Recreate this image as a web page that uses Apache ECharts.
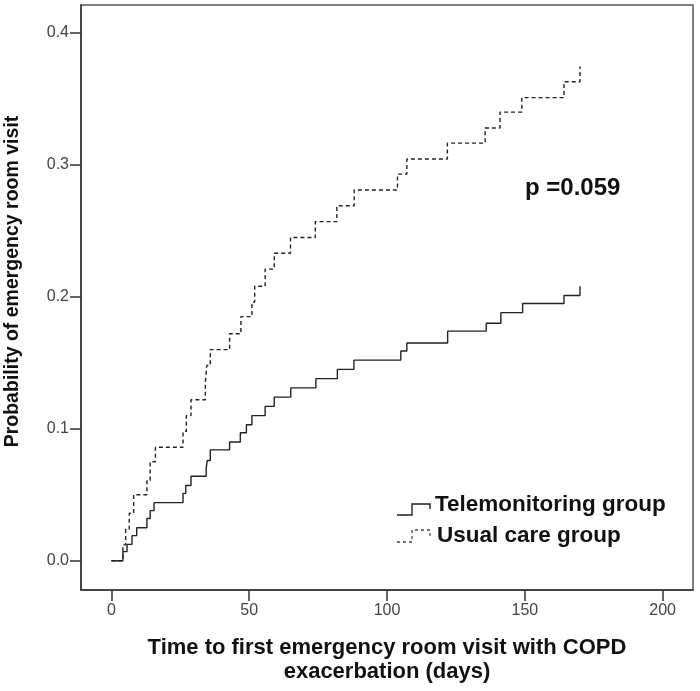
<!DOCTYPE html>
<html>
<head>
<meta charset="utf-8">
<script src="https://cdn.jsdelivr.net/npm/echarts@6/dist/echarts.min.js"></script>
<style>
    html, body { margin: 0; padding: 0; background: #fff; }
    #chart { width: 700px; height: 691px; }
</style>
</head>
<body>
<div id="chart"></div>
<script>
// event times (days) and cumulative probability after each event
var teleTimes = [0, 4.2, 5.7, 7.5, 9.2, 12.9, 14.1, 15.5, 26, 27, 28.9, 34.4, 34.8, 35.9, 42.9, 46.8, 49, 51, 55.8, 59.1, 65.1, 74.2, 82, 88, 105, 107.2, 122, 136, 141.3, 149.2, 164.2, 170];
var teleProb = [0, 0.0069, 0.0124, 0.019, 0.025, 0.032, 0.038, 0.044, 0.051, 0.057, 0.064, 0.070, 0.076, 0.084, 0.090, 0.097, 0.103, 0.110, 0.117, 0.124, 0.131, 0.138, 0.145, 0.152, 0.159, 0.165, 0.174, 0.180, 0.188, 0.195, 0.201, 0.208];

var usualTimes = [0, 4.2, 5.2, 6.5, 8.1, 12.9, 14.1, 16, 26, 27.2, 28.9, 34.1, 34.6, 35.9, 42.9, 47, 51, 52, 55.8, 59.1, 65, 74, 81.8, 88.1, 103.8, 107.2, 121.9, 135.6, 141, 148.9, 164.2, 170];
var usualProb = [0, 0.012, 0.024, 0.036, 0.050, 0.061, 0.075, 0.086, 0.098, 0.110, 0.122, 0.135, 0.148, 0.160, 0.172, 0.185, 0.196, 0.208, 0.221, 0.233, 0.245, 0.257, 0.269, 0.281, 0.293, 0.3045, 0.3165, 0.328, 0.340, 0.351, 0.363, 0.3745];

var xTicks = [0, 50, 100, 150, 200];
var yTicks = [0, 0.1, 0.2, 0.3, 0.4];
var seriesNames = ['Telemonitoring group', 'Usual care group'];
var pText = 'p =0.059';

function pairs(xs, ys) {
    var out = [];
    for (var i = 0; i < xs.length; i++) {
        out.push([xs[i], ys[i]]);
    }
    return out;
}

var chart = echarts.init(document.getElementById('chart'));

var boldFont = 'Liberation Sans';

var option = {
    animation: false,
    backgroundColor: '#fff',
    grid: {
        left: 81, right: 7, top: 5, bottom: 101,
        containLabel: false,
        outerBoundsMode: 'none',
        show: true,
        borderColor: '#555',
        borderWidth: 1.5,
        backgroundColor: 'transparent'
    },
    xAxis: {
        type: 'value',
        min: -11,
        max: 211,
        name: 'Time to first emergency room visit with COPD\nexacerbation (days)',
        nameLocation: 'middle',
        nameGap: 46,
        nameTextStyle: { fontFamily: boldFont, fontWeight: 'bold', fontSize: 22, color: '#111', lineHeight: 24, verticalAlign: 'top' },
        splitLine: { show: false },
        axisLine: { show: true, onZero: false, lineStyle: { color: '#333', width: 1.5 } },
        axisTick: { show: true, length: 11, customValues: xTicks, lineStyle: { color: '#333', width: 1.5 } },
        axisLabel: { customValues: xTicks, fontFamily: 'Liberation Sans', fontSize: 16, color: '#444', margin: 13 }
    },
    yAxis: {
        type: 'value',
        min: -0.0222,
        max: 0.4212,
        name: 'Probability of emergency room visit',
        nameLocation: 'middle',
        nameGap: 58,
        nameTextStyle: { fontFamily: boldFont, fontWeight: 'bold', fontSize: 19.5, color: '#111', padding: [0, 0, 0, 32] },
        splitLine: { show: false },
        axisLine: { show: true, onZero: false, lineStyle: { color: '#333', width: 1.5 } },
        axisTick: { show: true, length: 11, customValues: yTicks, lineStyle: { color: '#333', width: 1.5 } },
        axisLabel: {
            customValues: yTicks,
            fontFamily: 'Liberation Sans', fontSize: 16, color: '#444', margin: 12,
            formatter: function (v) { return v.toFixed(1); }
        }
    },
    series: [
        {
            name: seriesNames[0],
            type: 'line',
            step: 'end',
            symbol: 'none',
            data: pairs(teleTimes, teleProb),
            lineStyle: { color: '#222', width: 1.4 }
        },
        {
            name: seriesNames[1],
            type: 'line',
            step: 'end',
            symbol: 'none',
            data: pairs(usualTimes, usualProb),
            lineStyle: { color: '#222', width: 1.4, type: [4, 3] }
        }
    ],
    graphic: [
        {
            type: 'text', left: 525, top: 176,
            style: { text: pText, fontFamily: boldFont, fontWeight: 'bold', fontSize: 24, fill: '#111' }
        },
        {
            type: 'polyline',
            shape: { points: [[397, 515], [412, 515], [412, 504], [430, 504], [430, 509]] },
            style: { stroke: '#222', lineWidth: 1.4, fill: null }
        },
        {
            type: 'text', left: 435, top: 493,
            style: { text: seriesNames[0], fontFamily: boldFont, fontWeight: 'bold', fontSize: 22.5, fill: '#111' }
        },
        {
            type: 'polyline',
            shape: { points: [[397, 542], [412, 542], [412, 530], [430, 530], [430, 538]] },
            style: { stroke: '#444', lineWidth: 1.3, fill: null, lineDash: [3, 3] }
        },
        {
            type: 'text', left: 437, top: 524,
            style: { text: seriesNames[1], fontFamily: boldFont, fontWeight: 'bold', fontSize: 22.5, fill: '#111' }
        }
    ]
};

chart.setOption(option);
</script>
</body>
</html>
